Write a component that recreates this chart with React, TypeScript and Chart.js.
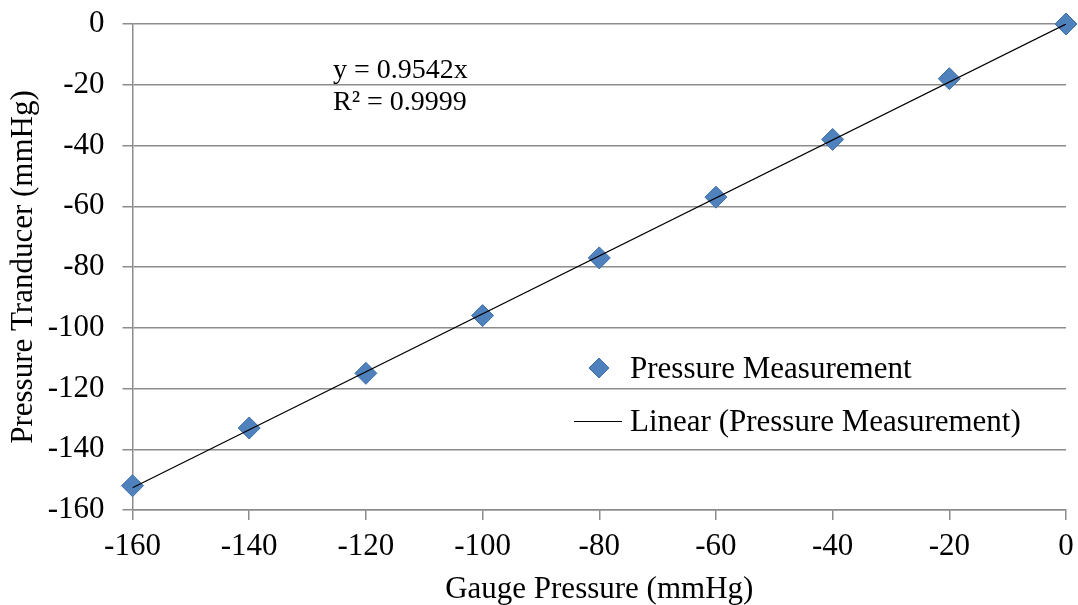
import React, { useEffect, useRef } from "react";
import { Chart, registerables } from "chart.js";

Chart.register(...registerables);

// Data
const gaugePressure = [-160, -140, -120, -100, -80, -60, -40, -20, 0];
const transducerPressure = [-152, -133, -115, -96, -77, -57, -38, -18, 0];
const trendX = [-160, 0];
const trendY = [-152.67, 0];
const seriesLabel = "Pressure Measurement";
const trendLabel = "Linear (Pressure Measurement)";
const equationLines = ["y = 0.9542x", "R² = 0.9999"];
const xTitle = "Gauge Pressure (mmHg)";
const yTitle = "Pressure Tranducer (mmHg)";

const FONT = "'Liberation Serif', 'Times New Roman', serif";
const FS = 31;
const BLUE = "#4F81BD";
const BLUE_BORDER = "#3E6FA8";
const GRID = "#8C8C8C";

const overlayPlugin = {
  id: "overlayText",
  afterDatasetsDraw(chart: any) {
    const ctx = chart.ctx;
    ctx.save();
    ctx.fillStyle = "#000";
    ctx.textBaseline = "alphabetic";
    ctx.textAlign = "left";
    // equation
    ctx.font = `28px ${FONT}`;
    ctx.fillText(equationLines[0], 333, 78);
    ctx.fillText(equationLines[1], 333, 110);
    // legend
    ctx.font = `${FS}px ${FONT}`;
    ctx.fillStyle = BLUE;
    ctx.strokeStyle = BLUE_BORDER;
    ctx.lineWidth = 1;
    const cx = 599, cy = 368, r = 10;
    ctx.beginPath();
    ctx.moveTo(cx - r, cy);
    ctx.lineTo(cx, cy - r);
    ctx.lineTo(cx + r, cy);
    ctx.lineTo(cx, cy + r);
    ctx.closePath();
    ctx.fill();
    ctx.stroke();
    ctx.strokeStyle = "#000";
    ctx.lineWidth = 1.2;
    ctx.beginPath();
    ctx.moveTo(574, 421.5);
    ctx.lineTo(622, 421.5);
    ctx.stroke();
    ctx.fillStyle = "#000";
    ctx.fillText(seriesLabel, 630, 378);
    ctx.fillText(trendLabel, 630, 431);
    ctx.restore();
  },
};

export default function App() {
  const ref = useRef<HTMLCanvasElement | null>(null);
  useEffect(() => {
    if (!ref.current) return;
    const chart = new Chart(ref.current, {
      type: "scatter",
      data: {
        datasets: [
          {
            label: seriesLabel,
            data: gaugePressure.map((x, i) => ({ x, y: transducerPressure[i] })),
            pointStyle: "rectRot",
            pointRadius: 11,
            pointBackgroundColor: BLUE,
            pointBorderColor: BLUE_BORDER,
            pointBorderWidth: 1,
            showLine: false,
            order: 1,
            clip: false as any,
          },
          {
            type: "line" as any,
            label: trendLabel,
            data: trendX.map((x, i) => ({ x, y: trendY[i] })),
            borderColor: "#000",
            borderWidth: 1.2,
            pointRadius: 0,
            showLine: true,
            fill: false,
            order: 0,
          },
        ],
      },
      options: {
        animation: false,
        responsive: true,
        maintainAspectRatio: false,
        layout: { padding: { top: 24, right: 9, left: 0, bottom: 0 } },
        plugins: {
          legend: { display: false },
          tooltip: { enabled: false },
        },
        scales: {
          x: {
            type: "linear",
            min: -160,
            max: 0,
            ticks: {
              stepSize: 20,
              color: "#000",
              font: { family: FONT, size: FS },
              padding: 8,
              maxRotation: 0,
            },
            grid: {
              drawOnChartArea: false,
              drawTicks: true,
              tickLength: 10,
              color: GRID,
              lineWidth: 1.5,
            },
            border: { display: true, color: GRID, width: 1.5 },
            title: {
              display: true,
              text: xTitle,
              color: "#000",
              font: { family: FONT, size: FS, lineHeight: 1 },
              padding: { top: 0, bottom: 0 },
            },
            afterFit(scale: any) {
              scale.height = 95;
              scale.paddingLeft = 0;
              scale.paddingRight = 0;
            },
          },
          y: {
            type: "linear",
            min: -160,
            max: 0,
            ticks: {
              stepSize: 20,
              color: "#000",
              font: { family: FONT, size: FS },
              padding: 18,
            },
            grid: {
              drawTicks: true,
              tickLength: 10,
              color: GRID,
              lineWidth: 1.5,
            },
            border: { display: true, color: GRID, width: 1.5 },
            title: {
              display: true,
              text: yTitle,
              color: "#000",
              font: { family: FONT, size: FS, lineHeight: 1 },
              padding: { top: 8, bottom: 0 },
            },
            afterFit(scale: any) {
              scale.width = 132.5;
              scale.paddingTop = 0;
              scale.paddingBottom = 0;
            },
          },
        },
      },
      plugins: [overlayPlugin],
    });
    return () => chart.destroy();
  }, []);
  return (
    <div style={{ position: "absolute", left: 0, top: 0, width: 1078, height: 605, background: "#fff" }}>
      <canvas ref={ref} />
    </div>
  );
}
